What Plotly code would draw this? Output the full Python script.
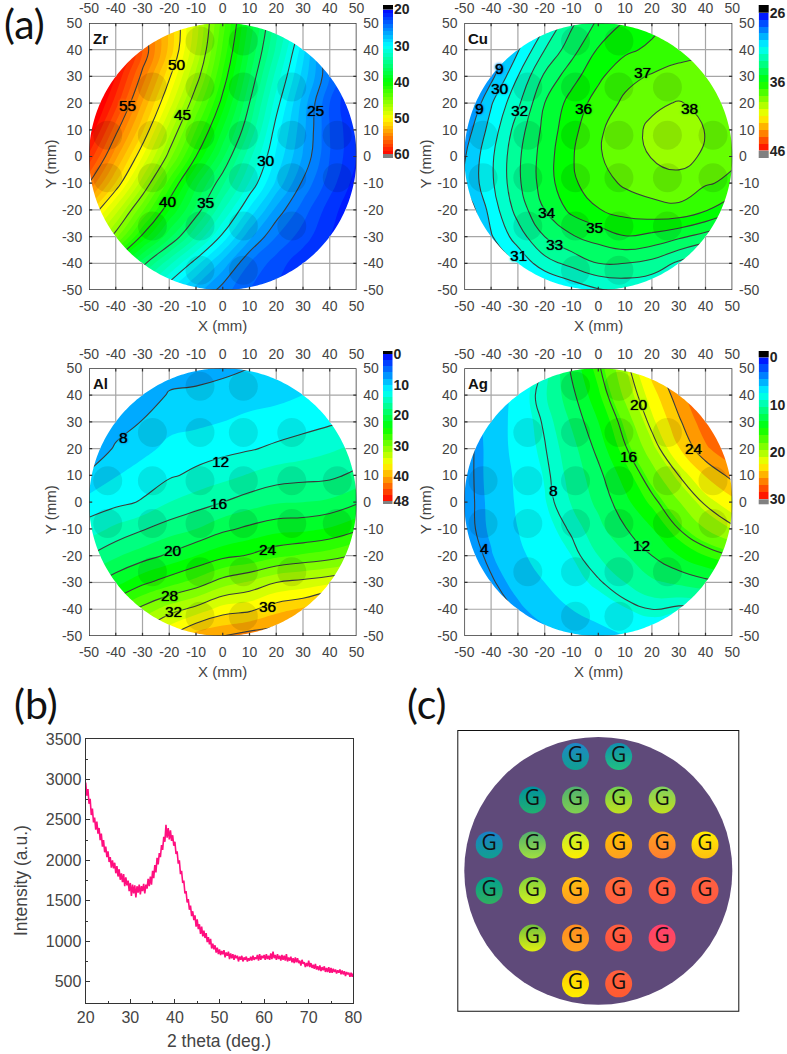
import numpy as np
import plotly.graph_objects as go

W, H = 787, 1054

GRID_X = [-50, -40, -30, -20, -10, 0, 10, 20, 30, 40, 50]
GRID_Y = [50, 40, 30, 20, 10, 0, -10, -20, -30, -40, -50]

ZR_VALUES = [
    [62, 59.5, 55, 51.7, 47.5, 42.5, 37.7, 33.5, 29.6, 25, 21],
    [64, 60.5, 56, 51.7, 47, 41.8, 37, 32.8, 28.4, 23.8, 20.5],
    [63, 59, 54.6, 50.2, 45.7, 40.8, 36.1, 31.6, 27.6, 24, 21],
    [61.5, 57.5, 52.9, 48.6, 43.9, 39.5, 35, 30.5, 26.6, 23, 20.5],
    [60, 55.4, 51.2, 46.5, 42, 37.9, 33.9, 29.5, 26.3, 23, 21],
    [57.7, 53.3, 49, 44.5, 40, 36.2, 32.3, 28.8, 25.9, 23, 21],
    [55, 50.9, 46.4, 41.5, 37.3, 34.2, 30.9, 27.8, 24.8, 22.5, 20.5],
    [51.5, 47.5, 43.2, 39, 35.7, 32.1, 28.8, 25.7, 23.5, 21.5, 20],
    [48, 44.4, 39.7, 36.3, 33, 29.7, 26.3, 24, 22.5, 21, 20],
    [44, 39.2, 35.4, 32.3, 29.4, 26.6, 24, 22.5, 21.3, 20.5, 20],
    [40, 35.8, 32.1, 29, 26.5, 24.5, 23, 22, 21, 20.5, 20],
]
CU_VALUES = [
    [27, 28, 29.3, 30.8, 32.8, 34.2, 35.1, 35.7, 36.3, 37, 37.3],
    [27.5, 27.8, 29.9, 32, 33.6, 35.1, 35.8, 36.2, 36.6, 36.85, 37],
    [26.5, 28.7, 31, 33.2, 34.6, 35.8, 36.7, 37.1, 37.4, 37.2, 37],
    [27.5, 29.9, 31.8, 34, 35.4, 36.4, 37.2, 37.85, 38.05, 37.8, 37.3],
    [28.4, 30.4, 32.5, 34.3, 35.7, 36.8, 37.7, 38.15, 38.35, 37.98, 37.4],
    [28.9, 30.8, 32.8, 34.5, 35.9, 36.9, 37.5, 38.05, 38.35, 37.85, 37.2],
    [29, 30.8, 32.8, 34.5, 35.8, 36.6, 37.15, 37.4, 37.65, 37.1, 36.8],
    [28, 30.4, 32.4, 34, 35.25, 35.95, 36.4, 36.7, 36.75, 36.1, 35.2],
    [27.5, 29.9, 31.5, 33, 33.9, 34.4, 34.95, 34.7, 34.2, 33.6, 33],
    [26, 28, 30.2, 31.6, 32.3, 33, 33, 32.7, 31.8, 31, 30],
    [25, 26, 28, 29.5, 30.3, 30.9, 31.2, 31, 30.3, 29.5, 28.5],
]
AL_VALUES = [
    [5, 5, 6, 7, 7.2, 7.5, 8, 8.5, 9, 9.5, 10],
    [5.5, 6, 6.7, 8.2, 8.4, 8.8, 9.2, 9.5, 10, 10.5, 11],
    [6, 7, 8.1, 9.4, 9.6, 10, 10.5, 10.8, 11.2, 11.7, 12.4],
    [6.2, 8.3, 9.4, 10.5, 11, 11.4, 11.8, 12.4, 13, 13.7, 14.4],
    [8.4, 9.9, 10.9, 11.7, 12.5, 13.3, 14.2, 15, 15.3, 15.5, 16.5],
    [10.7, 11.4, 12.2, 14, 15, 16, 17, 17.8, 18, 18.4, 19.7],
    [13, 14.5, 15.8, 17, 18, 19.5, 20.5, 21.3, 21.5, 22.2, 23.6],
    [16, 17.7, 19, 20.4, 22, 23.4, 24.2, 25.5, 26.3, 27, 28.3],
    [19.3, 21.3, 23.5, 25.2, 26.8, 29, 30.3, 32, 32.7, 33.5, 34.6],
    [23.5, 26, 28.7, 31, 32.7, 34.9, 35.5, 37.3, 38.3, 41, 42],
    [29, 32, 33.3, 36, 39, 40, 41, 41.5, 44, 46, 48],
]
AG_VALUES = [
    [2, 5, 6.5, 8, 12.3, 15.7, 19.3, 23.2, 26, 28, 29.5],
    [3.5, 5, 6.5, 8.8, 11.5, 14.7, 18.4, 21.8, 24.9, 27.5, 29],
    [3.5, 5, 6.6, 8.2, 10.7, 13.5, 16.9, 20.6, 23.7, 26.5, 28.5],
    [3.5, 4.9, 6.6, 7.9, 9.9, 12.5, 15.8, 19, 22.4, 25.2, 27],
    [3.5, 4.9, 6.3, 7.6, 9.5, 11.5, 14.2, 17.2, 20, 22.6, 24.5],
    [3.5, 4.8, 6.2, 7.4, 9.1, 10.9, 13, 15.4, 17.9, 20.3, 22],
    [3.5, 4.7, 6, 7, 8.2, 10, 11.9, 13.4, 16, 18, 19.6],
    [3, 4.4, 5.6, 6.8, 7.5, 9, 10.3, 12, 13.5, 15, 16],
    [2.5, 3.8, 5, 6, 7, 7.8, 9, 10.2, 10.8, 11.5, 12],
    [1.5, 3, 4.2, 5.2, 6, 6.8, 7.4, 8, 7.6, 7.5, 7.5],
    [1, 2, 3.2, 4, 4.7, 5.3, 6, 6.3, 6.5, 6.6, 6.7],
]

ZR_LABELS = [(-17.2, 34.6, "50"), (-35.5, 19, "55"), (-15, 15.6, "45"), (-20.5, -17, "40"),
             (-6.4, -17.3, "35"), (16, -1.6, "30"), (34.5, 17.4, "25")]
CU_LABELS = [(-36.7, 32.8, "9"), (-36.5, 25.6, "30"), (-44.2, 17.8, "9"), (-29.5, 17.2, "32"),
             (-5.6, 17.8, "36"), (16.6, 31.5, "37"), (34, 18, "38"), (-19.3, -21, "34"),
             (-1.6, -26.6, "35"), (-16.4, -33, "33"), (-29.6, -37.2, "31")]
AL_LABELS = [(-37, 24.2, "8"), (-1, 15.3, "12"), (-1.6, -0.5, "16"), (-18.7, -18.2, "20"),
             (16.8, -17.7, "24"), (-20, -34.7, "28"), (-18.4, -40.7, "32"), (16.8, -39.1, "36")]
AG_LABELS = [(15, 36.6, "20"), (35.7, 20, "24"), (11.3, 17, "16"), (-16.7, 4.5, "8"),
             (16.2, -16.3, "12"), (-42.6, -17.4, "4")]

MAP_TICKS = [-50, -40, -30, -20, -10, 0, 10, 20, 30, 40, 50]
MAP_TICK_TEXT = ["-50", "-40", "-30", "-20", "-10", "0", "10", "20", "30", "40", "50"]

SPOT_X = [-8.5, 7.7,
          -26.3, -8.5, 7.7, 25.8,
          -43, -26.3, -8.5, 7.7, 25.8, 42.8,
          -43, -26.3, -8.5, 7.7, 25.8, 42.8,
          -26.3, -8.5, 7.7, 25.8,
          -8.5, 7.7]
SPOT_Y = [43.3, 43.3,
          26, 26, 26, 26,
          8, 8, 8, 8, 8, 8,
          -8, -8, -8, -8, -8, -8,
          -26, -26, -26, -26,
          -42.6, -42.6]

TWO_THETA = [20 + 0.25 * i for i in range(241)]
INTENSITY = [2960, 2800, 2880, 2700, 2760, 2560, 2640, 2470, 2530, 2380, 2480, 2330, 2400, 2250, 2330, 2170, 2250, 2100, 2170, 2040,
             2110, 1980, 2040, 1910, 2000, 1900, 1970, 1840, 1930, 1800, 1890, 1760, 1840, 1730, 1830, 1680, 1790, 1690, 1750, 1620,
             1720, 1560, 1700, 1590, 1690, 1540, 1680, 1600, 1700, 1580, 1680, 1620, 1710, 1590, 1700, 1650, 1770, 1680, 1800, 1700,
             1870, 1780, 1940, 1850, 2030, 1950, 2090, 2040, 2190, 2130, 2290, 2230, 2440, 2280, 2400, 2260, 2370, 2240, 2310, 2180,
             2230, 2080, 2110, 1960, 2000, 1830, 1870, 1720, 1750, 1590, 1620, 1480, 1520, 1390, 1440, 1310, 1370, 1260, 1320, 1180,
             1270, 1150, 1210, 1090, 1180, 1060, 1130, 1040, 1100, 990, 1050, 960, 1030, 910, 970, 900, 950, 860, 920, 840,
             900, 830, 880, 840, 890, 800, 860, 820, 870, 780, 850, 790, 840, 770, 830, 790, 820, 750, 810, 770,
             820, 750, 800, 770, 810, 750, 790, 760, 810, 760, 820, 770, 800, 780, 830, 760, 840, 770, 820, 790,
             830, 770, 840, 780, 820, 770, 850, 780, 870, 790, 830, 770, 840, 780, 820, 760, 830, 770, 820, 760,
             840, 750, 800, 760, 810, 740, 790, 730, 800, 740, 790, 730, 760, 700, 770, 720, 740, 680, 730, 690,
             760, 680, 730, 670, 710, 660, 720, 650, 690, 640, 700, 630, 680, 640, 690, 620, 670, 620, 680, 610,
             670, 610, 660, 620, 650, 600, 640, 610, 650, 590, 640, 590, 630, 570, 620, 590, 610, 560, 610, 560,
             600]
B_X_TICKS = [20, 30, 40, 50, 60, 70, 80]
B_Y_TICKS = [500, 1000, 1500, 2000, 2500, 3000, 3500]

C_X = [-8.5, 7.6,
       -24.6, -8.5, 7.6, 23.8,
       -40.7, -24.6, -8.5, 7.6, 23.8, 39.8,
       -40.7, -24.6, -8.5, 7.6, 23.8, 39.8,
       -24.6, -8.5, 7.6, 23.8,
       -8.5, 7.6]
C_Y = [42.7, 42.7,
       26.5, 26.5, 26.5, 26.5,
       9.7, 9.7, 9.7, 9.7, 9.7, 9.7,
       -7.3, -7.3, -7.3, -7.3, -7.3, -7.3,
       -25.1, -25.1, -25.1, -25.1,
       -42.2, -42.2]
C_COLOR_A = ["#1E88C8", "#1090B0",
             "#0090A0", "#50B070", "#70D050", "#80D060",
             "#1A80C8", "#50B070", "#C0F030", "#FFC000", "#FFA020", "#FFEE00",
             "#00A090", "#80D040", "#FFC010", "#FF6A3C", "#FF6040", "#FF6040",
             "#70C040", "#FF9020", "#FF6040", "#FF4070",
             "#FFD000", "#FF6040"]
C_COLOR_B = ["#10A090", "#20C080",
             "#20B070", "#80D050", "#C0E020", "#C0E020",
             "#10A090", "#A0E040", "#FFEE00", "#FFA020", "#FF7F30", "#FFC010",
             "#30B060", "#D0F020", "#FFA020", "#FF6040", "#FF5A40", "#FF5A40",
             "#E0F010", "#FFA020", "#FF5040", "#FF5050",
             "#FFEE00", "#FF5A30"]

JET = [[0, "#0000ff"], [0.25, "#00ffff"], [0.5, "#00ff00"], [0.75, "#ffff00"], [1, "#ff0000"]]
SANS = "Liberation Sans"
TICK_COLOR = "#444444"


def paper_x(px):
    return px / W


def paper_y(py):
    return 1 - py / H


def suffix(n):
    return "" if n == 1 else str(n)


def level_color(v, zmin, zmax):
    f = (v - zmin) / (zmax - zmin)
    stops = [(0, (0, 0, 255)), (0.25, (0, 255, 255)), (0.5, (0, 255, 0)), (0.75, (255, 255, 0)), (1, (255, 0, 0))]
    for (f0, c0), (f1, c1) in zip(stops, stops[1:]):
        if f <= f1:
            t = (f - f0) / (f1 - f0)
            return "rgb(%d,%d,%d)" % tuple(round(a + (b - a) * t) for a, b in zip(c0, c1))
    return "rgb(255,0,0)"


fig = go.Figure()
layout = {}
shapes = []
annotations = []


def text_note(px, py, text, size, angle=0, color=TICK_COLOR, family=SANS):
    annotations.append(dict(xref="paper", yref="paper", x=paper_x(px), y=paper_y(py), text=text,
                            showarrow=False, textangle=angle, xanchor="center", yanchor="middle",
                            font=dict(family=family, size=size, color=color)))


def map_panel(n, box, bar, name, values, zmin, zmax, band, line_start, line_end, line_step,
              labels, bar_ticks, xt_y, yt_x):
    left, top, right, bottom = box
    b_left, b_cap_top, b_top, b_bottom, b_cap_bottom, b_right = bar
    xa, ya = "x" + suffix(n), "y" + suffix(n)
    xt, yt = "x" + suffix(n + 1), "y" + suffix(n + 1)
    xb, yb = "x" + suffix(n + 2), "y" + suffix(n + 2)
    dom_x = [paper_x(left), paper_x(right)]
    dom_y = [paper_y(bottom), paper_y(top)]
    tick_common = dict(range=[-50, 50], tickmode="array", tickvals=MAP_TICKS, ticktext=MAP_TICK_TEXT,
                       showgrid=False, zeroline=False, showline=False, ticks="outside", ticklen=3,
                       tickcolor="rgba(0,0,0,0)", automargin=False,
                       tickfont=dict(family=SANS, size=14, color=TICK_COLOR))
    layout["xaxis" + suffix(n)] = dict(domain=dom_x, anchor=ya, side="bottom", **tick_common)
    layout["yaxis" + suffix(n)] = dict(domain=dom_y, anchor=xa, side="left", **tick_common)
    layout["xaxis" + suffix(n + 1)] = dict(domain=dom_x, anchor=ya, side="top", overlaying=xa, **tick_common)
    layout["yaxis" + suffix(n + 1)] = dict(domain=dom_y, anchor=xa, side="right", overlaying=ya, **tick_common)

    fig.add_trace(go.Contour(x=GRID_X, y=GRID_Y, z=values, xaxis=xa, yaxis=ya, showscale=False,
                             colorscale=JET, hoverinfo="skip", autocontour=False,
                             contours=dict(coloring="fill", start=zmin, end=zmax - band, size=band, showlines=False),
                             line=dict(width=0, smoothing=1.3)))
    fig.add_trace(go.Contour(x=GRID_X, y=GRID_Y, z=values, xaxis=xa, yaxis=ya, showscale=False,
                             hoverinfo="skip", autocontour=False,
                             contours=dict(coloring="none", start=line_start, end=line_end, size=line_step),
                             line=dict(color="#3c3c3c", width=1.1, smoothing=1.3)))
    fig.add_trace(go.Scatter(x=SPOT_X, y=SPOT_Y, xaxis=xa, yaxis=ya, mode="markers", hoverinfo="skip",
                             marker=dict(size=29, color="rgba(0,0,0,0.1)", line=dict(width=0)),
                             showlegend=False))
    fig.add_trace(go.Scatter(x=[None], y=[None], xaxis=xt, yaxis=ya, mode="markers", showlegend=False))
    fig.add_trace(go.Scatter(x=[None], y=[None], xaxis=xa, yaxis=yt, mode="markers", showlegend=False))

    # white surround of the round wafer (in page coordinates so it also covers the plot-area edge),
    # then grid, ticks and frame on top of it
    cx, cy = paper_x((left + right) / 2), paper_y((top + bottom) / 2)
    rx, ry = (right - left) / 2 / W, (bottom - top) / 2 / H
    ang = np.deg2rad(np.arange(0, 360, 1.0))
    circle = "M" + "L".join("%.5f,%.5f" % (cx + rx * np.cos(a), cy + ry * np.sin(a)) for a in ang) + "Z"
    ox0, ox1 = paper_x(left - 1.5), paper_x(right + 1.5)
    oy0, oy1 = paper_y(bottom + 1.5), paper_y(top - 1.5)
    mask = "M%.5f,%.5fL%.5f,%.5fL%.5f,%.5fL%.5f,%.5fZ" % (ox0, oy0, ox1, oy0, ox1, oy1, ox0, oy1) + circle
    shapes.append(dict(type="path", path=mask, xref="paper", yref="paper", fillcolor="white",
                       line=dict(width=0), layer="above"))
    for t in MAP_TICKS[1:-1]:
        half = float(np.sqrt(2500 - t * t))
        for y0, y1 in ((-50, -half), (half, 50)):
            shapes.append(dict(type="line", xref=xa, yref=ya, x0=t, x1=t, y0=y0, y1=y1, layer="above",
                               line=dict(color="#a6a6a6", width=1.2)))
            shapes.append(dict(type="line", xref=xa, yref=ya, y0=t, y1=t, x0=y0, x1=y1, layer="above",
                               line=dict(color="#a6a6a6", width=1.2)))
        for a0, a1 in ((-50, -48.8), (48.8, 50)):
            shapes.append(dict(type="line", xref=xa, yref=ya, x0=t, x1=t, y0=a0, y1=a1, layer="above",
                               line=dict(color="#333333", width=1.2)))
            shapes.append(dict(type="line", xref=xa, yref=ya, y0=t, y1=t, x0=a0, x1=a1, layer="above",
                               line=dict(color="#333333", width=1.2)))
    shapes.append(dict(type="rect", xref=xa, yref=ya, x0=-50, x1=50, y0=-50, y1=50, layer="above",
                       line=dict(color="#333333", width=1.5)))

    for x, y, s in labels:
        c = level_color(float(line_start) if s == "9" else float(s), zmin, zmax)
        annotations.append(dict(xref=xa, yref=ya, x=x, y=y, text=s, showarrow=False,
                                xanchor="center", yanchor="middle",
                                font=dict(family=SANS, size=15.5, color="#000000",
                                          shadow="0 0 1px #000000, 0 0 2px %s, 0 0 3px %s, 0 0 3px %s" % (c, c, c))))
    annotations.append(dict(xref=xa, yref=ya, x=-49.2, y=44.2, text="<b>%s</b>" % name, showarrow=False,
                            xanchor="left", yanchor="middle",
                            font=dict(family=SANS, size=15, color="#111111")))
    text_note((left + right) / 2, xt_y, "X (mm)", 15)
    text_note(yt_x, (top + bottom) / 2 + 8, "Y (mm)", 15, angle=-90)

    # colour key
    centers = [zmin + band * (i + 0.5) for i in range(int(round((zmax - zmin) / band)))]
    fig.add_trace(go.Heatmap(x=[0], y=centers, z=[[c] for c in centers], xaxis=xb, yaxis=yb,
                             colorscale=JET, zmin=zmin, zmax=zmax, showscale=False, hoverinfo="skip"))
    layout["xaxis" + suffix(n + 2)] = dict(domain=[paper_x(b_left), paper_x(b_right)], anchor=yb, visible=False,
                                           range=[-0.5, 0.5], automargin=False)
    layout["yaxis" + suffix(n + 2)] = dict(domain=[paper_y(b_bottom), paper_y(b_top)], anchor=xb, side="right",
                                           range=[zmax, zmin], tickmode="array", tickvals=bar_ticks,
                                           ticktext=[str(v) for v in bar_ticks], showgrid=False, zeroline=False,
                                           showline=False, ticks="", ticklabelstandoff=0, automargin=False,
                                           tickfont=dict(family=SANS, size=14, color="#222222", weight="bold"))
    shapes.append(dict(type="rect", xref="paper", yref="paper", x0=paper_x(b_left), x1=paper_x(b_right),
                       y0=paper_y(b_top), y1=paper_y(b_cap_top), fillcolor="#000000", line=dict(width=0)))
    shapes.append(dict(type="rect", xref="paper", yref="paper", x0=paper_x(b_left), x1=paper_x(b_right),
                       y0=paper_y(b_cap_bottom), y1=paper_y(b_bottom), fillcolor="#808080", line=dict(width=0)))


map_panel(1, (89, 23, 356.5, 290), (383, 5, 9.5, 154, 158, 393), "Zr", ZR_VALUES, 20, 60, 1, 25, 55, 5,
          ZR_LABELS, [20, 30, 40, 50, 60], 325, 50)
map_panel(4, (464.3, 23, 732.3, 290), (758.7, 5, 12.7, 150.7, 158, 768.7), "Cu", CU_VALUES, 26, 46, 1, 29, 38, 1,
          CU_LABELS, [26, 36, 46], 325, 425)
map_panel(7, (89, 368.3, 356.5, 636), (383, 351, 354, 501, 504, 392.5), "Al", AL_VALUES, 0, 48, 2, 8, 40, 4,
          AL_LABELS, [0, 10, 20, 30, 40, 48], 671, 50)
map_panel(10, (464.3, 368.3, 732.3, 636), (758.7, 351, 357.3, 499.3, 504.3, 768.7), "Ag", AG_VALUES, 0, 30, 1.5, 4, 28, 4,
          AG_LABELS, [0, 10, 20, 30], 671, 425)

# panel (b)
xa, ya = "x13", "y13"
fig.add_trace(go.Scatter(x=TWO_THETA, y=INTENSITY, xaxis=xa, yaxis=ya, mode="lines",
                         line=dict(color="#FF0F7F", width=1.6), hoverinfo="skip", showlegend=False))
frame = dict(showgrid=False, zeroline=False, showline=True, mirror=True, linecolor="#333333", linewidth=1.3,
             ticks="inside", ticklen=4, tickcolor="#333333", automargin=False,
             tickfont=dict(family=SANS, size=16, color=TICK_COLOR))
layout["xaxis13"] = dict(domain=[paper_x(85.7), paper_x(353.3)], anchor=ya, range=[20, 80], tickmode="array",
                         tickvals=B_X_TICKS, minor=dict(dtick=5, ticks="inside", ticklen=2, tickcolor="#333333"),
                         **frame)
layout["yaxis13"] = dict(domain=[paper_y(1002.7), paper_y(739)], anchor=xa, range=[240, 3500], tickmode="array",
                         tickvals=B_Y_TICKS, tickformat="d",
                         minor=dict(dtick=250, tick0=0, ticks="inside", ticklen=2, tickcolor="#333333"), **frame)
text_note(219, 1041, "2 theta (deg.)", 17.5)
text_note(21, 881, "Intensity (a.u.)", 17.5, angle=-90)

# panel (c)
xa, ya = "x14", "y14"
fig.add_trace(go.Scatter(x=C_X, y=C_Y, xaxis=xa, yaxis=ya, mode="markers+text", text=["G"] * len(C_X),
                         textposition="middle center", hoverinfo="skip", showlegend=False,
                         textfont=dict(family="Open Sans", size=21, color="#111111"),
                         marker=dict(size=27, color=C_COLOR_A, line=dict(width=0),
                                     gradient=dict(type="vertical", color=C_COLOR_B))))
layout["xaxis14"] = dict(domain=[paper_x(457.3), paper_x(739.3)], anchor=ya, range=[-52.6, 52.6], visible=False,
                         automargin=False)
layout["yaxis14"] = dict(domain=[paper_y(1011.7), paper_y(730)], anchor=xa, range=[-52.6, 52.6], visible=False,
                         automargin=False)
shapes.append(dict(type="circle", xref=xa, yref=ya, x0=-50, x1=50, y0=-50, y1=50, layer="below",
                   fillcolor="#5F4A7A", line=dict(width=0)))
shapes.append(dict(type="rect", xref=xa, yref=ya, x0=-52.6, x1=52.6, y0=-52.6, y1=52.6, layer="above",
                   line=dict(color="#111111", width=2)))

text_note(24, 23, "(a)", 41, color="#111111", family="Lato")
text_note(36, 703, "(b)", 41, color="#111111", family="Lato")
text_note(427, 703, "(c)", 41, color="#111111", family="Lato")

fig.update_layout(template="none", width=W, height=H, margin=dict(l=0, r=0, t=0, b=0), paper_bgcolor="white",
                  plot_bgcolor="white", showlegend=False, shapes=shapes, annotations=annotations, **layout)
fig.write_html("out.html", config=dict(displayModeBar=False),
               post_script="document.body.style.margin='0';document.body.style.overflow='hidden';")
